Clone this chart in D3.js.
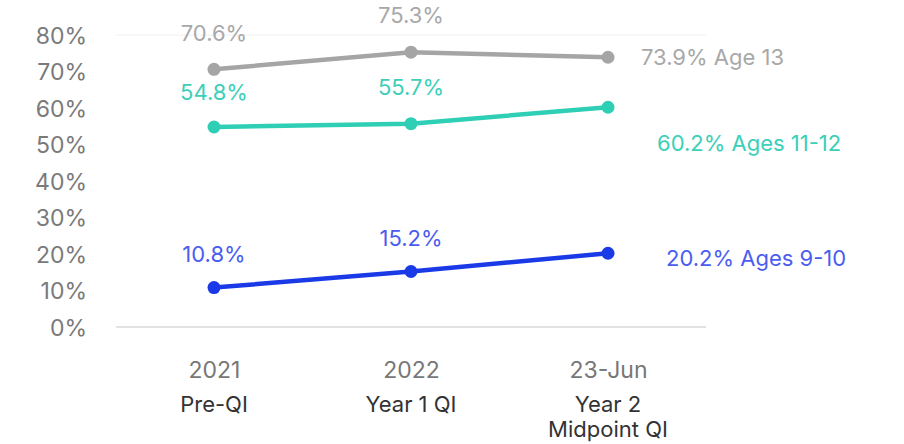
<!DOCTYPE html>
<html><head><meta charset="utf-8">
<script src="https://cdn.jsdelivr.net/npm/d3@7"></script>
<style>body{margin:0;background:#fff;}svg{display:block;font-family:Inter,"Open Sans",sans-serif;}</style>
</head><body>
<svg id="c" width="904" height="444"></svg>
<script>
const categories = ["2021", "2022", "23-Jun"];
const subLabels = [["Pre-QI"], ["Year 1 QI"], ["Year 2", "Midpoint QI"]];
const yTicks = [0, 10, 20, 30, 40, 50, 60, 70, 80];
const age13 = [70.6, 75.3, 73.9];
const ages1112 = [54.8, 55.7, 60.2];
const ages910 = [10.8, 15.2, 20.2];
const seriesNames = ["Age 13", "Ages 11-12", "Ages 9-10"];

const series = [
  {name: seriesNames[0], values: age13, line: "#a5a5a5", text: "#a8a8a8", dy: [-36, -37]},
  {name: seriesNames[1], values: ages1112, line: "#2fcfb6", text: "#3ccfb9", dy: [-35, -36]},
  {name: seriesNames[2], values: ages910, line: "#1a3ae8", text: "#4b5df0", dy: [-33, -33]}
];
const endOffsets = [[33, 0], [49, 36], [58, 5]];

const svg = d3.select("#c");
const x = d3.scalePoint().domain(categories).range([214, 608]);
const y = d3.scaleLinear().domain([0, 80]).range([327, 35]);

svg.append("line").attr("x1", 116).attr("x2", 706).attr("y1", y(80)).attr("y2", y(80))
  .attr("stroke", "#f0f0f0").attr("stroke-width", 1);
svg.append("line").attr("x1", 116).attr("x2", 706).attr("y1", y(0)).attr("y2", y(0))
  .attr("stroke", "#d9d9d9").attr("stroke-width", 1.5);

const yAxis = d3.axisLeft(y).tickValues(yTicks).tickFormat(d => d + "%").tickSize(0).tickPadding(0);
const ya = svg.append("g").attr("transform", "translate(87,0)").call(yAxis);
ya.select(".domain").remove();
ya.selectAll("text").attr("fill", "#7a7a7a").attr("font-size", 23).attr("font-family", "Inter").attr("dy", "0.35em");

const xAxis = d3.axisBottom(x).tickSize(0).tickPadding(0);
const xa = svg.append("g").attr("transform", "translate(0,370)").call(xAxis);
xa.select(".domain").remove();
xa.selectAll("text").attr("fill", "#777").attr("font-size", 23).attr("font-family", "Inter").attr("dy", "0.35em").attr("y", 0);
categories.forEach((c, i) => {
  subLabels[i].forEach((s, j) => {
    svg.append("text").attr("x", x(c)).attr("y", 404 + j * 25).attr("dy", "0.35em")
      .attr("text-anchor", "middle").attr("font-size", 22).attr("fill", "#333").text(s);
  });
});

const line = d3.line().x((d, i) => x(categories[i])).y(d => y(d));
series.forEach((s, si) => {
  svg.append("path").attr("d", line(s.values)).attr("fill", "none")
    .attr("stroke", s.line).attr("stroke-width", 4.5).attr("stroke-linecap", "round");
  svg.selectAll(null).data(s.values).enter().append("circle")
    .attr("cx", (d, i) => x(categories[i])).attr("cy", d => y(d)).attr("r", 6.5).attr("fill", s.line);
  s.values.forEach((v, i) => {
    let tx, ty, anchor, label;
    if (i < 2) {
      tx = x(categories[i]); ty = y(v) + s.dy[i]; anchor = "middle"; label = v.toFixed(1) + "%";
    } else {
      tx = x(categories[i]) + endOffsets[si][0]; ty = y(v) + endOffsets[si][1]; anchor = "start";
      label = v.toFixed(1) + "% " + s.name;
    }
    svg.append("text").attr("x", tx).attr("y", ty).attr("dy", "0.35em").attr("text-anchor", anchor)
      .attr("font-size", 22).attr("fill", s.text).text(label);
  });
});
</script>
</body></html>
